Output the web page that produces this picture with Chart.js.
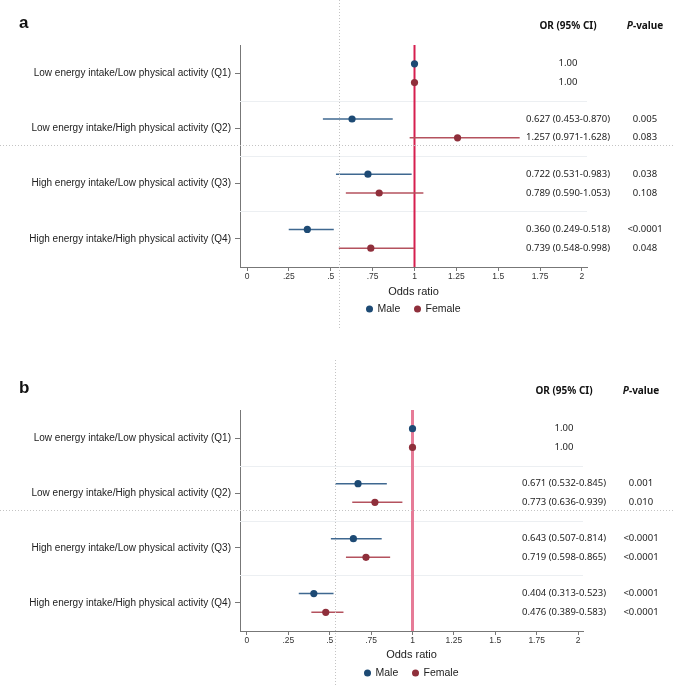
<!DOCTYPE html>
<html>
<head>
<meta charset="utf-8">
<script src="https://cdn.jsdelivr.net/npm/chart.js@4.4.0/dist/chart.umd.min.js"></script>
<style>
  html, body { margin: 0; padding: 0; background: #fff; }
  .panel { position: absolute; left: 0; width: 673px; }
</style>
</head>
<body>
<div class="panel" style="top:0;height:345px"><canvas id="chartA" width="673" height="345"></canvas></div>
<div class="panel" style="top:345px;height:341px"><canvas id="chartB" width="673" height="341"></canvas></div>
<script>
// Categories (y axis) and x tick values
const categories = [
  "Low energy intake/Low physical activity (Q1)",
  "Low energy intake/High physical activity (Q2)",
  "High energy intake/Low physical activity (Q3)",
  "High energy intake/High physical activity (Q4)"
];
const xTicks = [0, 0.25, 0.5, 0.75, 1, 1.25, 1.5, 1.75, 2];
const seriesNames = ["Male", "Female"];

// Panel a
const maleOR_a = [1.00, 0.627, 0.722, 0.360];
const maleLow_a = [null, 0.453, 0.531, 0.249];
const maleHigh_a = [null, 0.870, 0.983, 0.518];
const maleP_a = ["", "0.005", "0.038", "<0.0001"];
const femaleOR_a = [1.00, 1.257, 0.789, 0.739];
const femaleLow_a = [null, 0.971, 0.590, 0.548];
const femaleHigh_a = [null, 1.628, 1.053, 0.998];
const femaleP_a = ["", "0.083", "0.108", "0.048"];

// Panel b
const maleOR_b = [1.00, 0.671, 0.643, 0.404];
const maleLow_b = [null, 0.532, 0.507, 0.313];
const maleHigh_b = [null, 0.845, 0.814, 0.523];
const maleP_b = ["", "0.001", "<0.0001", "<0.0001"];
const femaleOR_b = [1.00, 0.773, 0.719, 0.476];
const femaleLow_b = [null, 0.636, 0.598, 0.389];
const femaleHigh_b = [null, 0.939, 0.865, 0.583];
const femaleP_b = ["", "0.010", "<0.0001", "<0.0001"];

const MALE = "#1d4a74", FEMALE = "#8f2f3b";
const MALE_BAR = "#3f6890", FEMALE_BAR = "#b4525e";
const ROW_OFFSET = 0.17;

function fmtTick(v) {
  // Stata style: ".25" instead of "0.25"
  return v === 0 ? "0" : String(v).replace(/^0\./, ".");
}

function fmtOR(or, lo, hi) {
  if (lo == null) return or.toFixed(2);
  return or.toFixed(3) + " (" + lo.toFixed(3) + "-" + hi.toFixed(3) + ")";
}

const forestPlugin = {
  id: "forest",
  beforeDatasetsDraw(chart, args, opts) {
    const { ctx, chartArea: a, scales: { x, y } } = chart;
    ctx.save();
    // light separators between groups
    ctx.strokeStyle = "#eceff2";
    ctx.lineWidth = 1;
    [1.5, 2.5, 3.5].forEach(v => {
      const py = Math.round(y.getPixelForValue(v)) + 0.5;
      ctx.beginPath(); ctx.moveTo(a.left, py); ctx.lineTo(a.right, py); ctx.stroke();
    });
    // reference line at OR = 1
    const px = x.getPixelForValue(1);
    ctx.strokeStyle = opts.refColor;
    ctx.lineWidth = opts.refWidth;
    ctx.beginPath(); ctx.moveTo(px, a.top); ctx.lineTo(px, a.bottom); ctx.stroke();
    // confidence intervals
    opts.series.forEach((s, si) => {
      ctx.strokeStyle = si === 0 ? MALE_BAR : FEMALE_BAR;
      ctx.lineWidth = 1.5;
      s.lo.forEach((lo, i) => {
        if (lo == null) return;
        const py = y.getPixelForValue(i + 1 + (si === 0 ? -ROW_OFFSET : ROW_OFFSET));
        ctx.beginPath();
        ctx.moveTo(x.getPixelForValue(lo), py);
        ctx.lineTo(x.getPixelForValue(s.hi[i]), py);
        ctx.stroke();
      });
    });
    ctx.restore();
  },
  afterDraw(chart, args, opts) {
    const { ctx, chartArea: a, scales: { y } } = chart;
    const W = chart.width, H = chart.height;
    ctx.save();
    // panel letter
    ctx.fillStyle = "#111";
    ctx.font = "bold 17px 'Liberation Sans', Arial, sans-serif";
    ctx.textAlign = "left"; ctx.textBaseline = "alphabetic";
    ctx.fillText(opts.letter, 19, opts.letterY);
    // column headers
    const orX = a.right - 19, pX = a.right + 58;
    ctx.textBaseline = "middle"; ctx.textAlign = "center";
    ctx.font = "bold 10px 'Noto Sans', sans-serif";
    ctx.fillText("OR (95% CI)", orX, opts.headerY);
    const pW = ctx.measureText("P").width;
    const restW = ctx.measureText("-value").width;
    ctx.textAlign = "left";
    ctx.font = "italic bold 10px 'Noto Sans', sans-serif";
    ctx.fillText("P", pX - (pW + restW) / 2, opts.headerY);
    ctx.font = "bold 10px 'Noto Sans', sans-serif";
    ctx.fillText("-value", pX - (pW + restW) / 2 + pW, opts.headerY);
    // OR and p-value texts
    ctx.font = "9.5px 'Noto Sans', sans-serif";
    ctx.fillStyle = "#222";
    ctx.textAlign = "center";
    opts.series.forEach((s, si) => {
      s.or.forEach((or, i) => {
        const py = y.getPixelForValue(i + 1 + (si === 0 ? -ROW_OFFSET : ROW_OFFSET));
        ctx.fillText(fmtOR(or, s.lo[i], s.hi[i]), orX, py);
        if (s.p[i]) ctx.fillText(s.p[i], pX, py);
      });
    });
    // legend
    const cx = (a.left + a.right) / 2;
    const ly = opts.legendY;
    ctx.font = "10.5px 'Liberation Sans', Arial, sans-serif";
    ctx.textAlign = "left";
    [[MALE, seriesNames[0], -44], [FEMALE, seriesNames[1], 4]].forEach(([c, name, dx]) => {
      ctx.fillStyle = c;
      ctx.beginPath(); ctx.arc(cx + dx, ly, 3.5, 0, Math.PI * 2); ctx.fill();
      ctx.fillStyle = "#222";
      ctx.fillText(name, cx + dx + 8, ly);
    });
    // dotted figure guide lines
    ctx.strokeStyle = "#c4c4c4";
    ctx.lineWidth = 1;
    ctx.setLineDash([1, 2]);
    ctx.beginPath();
    ctx.moveTo(opts.guideX + 0.5, opts.guideTop); ctx.lineTo(opts.guideX + 0.5, opts.guideBottom);
    ctx.moveTo(0, opts.guideY + 0.5); ctx.lineTo(W, opts.guideY + 0.5);
    ctx.stroke();
    ctx.restore();
  }
};

function makePanel(canvasId, series, layout) {
  const datasets = series.map((s, si) => ({
    label: seriesNames[si],
    data: s.or.map((v, i) => ({ x: v, y: i + 1 + (si === 0 ? -ROW_OFFSET : ROW_OFFSET) })),
    backgroundColor: si === 0 ? MALE : FEMALE,
    borderWidth: 0,
    pointRadius: 3.6,
    pointHoverRadius: 3.6
  }));

  new Chart(document.getElementById(canvasId), {
    type: "scatter",
    data: { datasets },
    plugins: [forestPlugin],
    options: {
      responsive: false,
      animation: false,
      events: [],
      layout: { padding: { top: layout.top, right: layout.right, bottom: 0, left: 0 } },
      scales: {
        x: {
          type: "linear",
          min: -0.042,
          max: 2.03,
          afterBuildTicks: s => { s.ticks = xTicks.map(v => ({ value: v })); },
          afterFit: s => { s.height = layout.xHeight; },
          ticks: {
            callback: v => fmtTick(v),
            font: { family: "'Liberation Sans', Arial, sans-serif", size: 8.5 },
            color: "#333",
            padding: 1,
            maxRotation: 0,
            autoSkip: false
          },
          grid: { drawOnChartArea: false, tickLength: 4, color: "#777" },
          border: { color: "#777", width: 1 },
          title: {
            display: true,
            text: "Odds ratio",
            font: { family: "'Liberation Sans', Arial, sans-serif", size: 11 },
            color: "#222",
            padding: { top: 0, bottom: layout.titlePad }
          }
        },
        y: {
          type: "linear",
          reverse: true,
          min: 0.49,
          max: 4.51,
          afterBuildTicks: s => { s.ticks = categories.map((c, i) => ({ value: i + 1 })); },
          afterFit: s => { s.width = 240; },
          ticks: {
            callback: v => categories[v - 1],
            font: { family: "'Liberation Sans', Arial, sans-serif", size: 10 },
            color: "#222",
            padding: 4
          },
          grid: { drawOnChartArea: false, tickLength: 5, color: "#777" },
          border: { color: "#777", width: 1 }
        }
      },
      plugins: {
        legend: { display: false },
        tooltip: { enabled: false },
        forest: Object.assign({ series }, layout)
      }
    }
  });
}

makePanel("chartA", [
  { or: maleOR_a, lo: maleLow_a, hi: maleHigh_a, p: maleP_a },
  { or: femaleOR_a, lo: femaleLow_a, hi: femaleHigh_a, p: femaleP_a }
], {
  top: 45, right: 86, xHeight: 78, titlePad: 46,
  letter: "a", letterY: 28, headerY: 26, legendY: 309,
  refColor: "#d61f4f", refWidth: 2,
  guideX: 339, guideTop: 0, guideBottom: 328, guideY: 145
});

makePanel("chartB", [
  { or: maleOR_b, lo: maleLow_b, hi: maleHigh_b, p: maleP_b },
  { or: femaleOR_b, lo: femaleLow_b, hi: femaleHigh_b, p: femaleP_b }
], {
  top: 65, right: 90, xHeight: 55, titlePad: 24,
  letter: "b", letterY: 48, headerY: 46, legendY: 328,
  refColor: "#e67b97", refWidth: 3,
  guideX: 335, guideTop: 15, guideBottom: 341, guideY: 165
});
</script>
</body>
</html>
